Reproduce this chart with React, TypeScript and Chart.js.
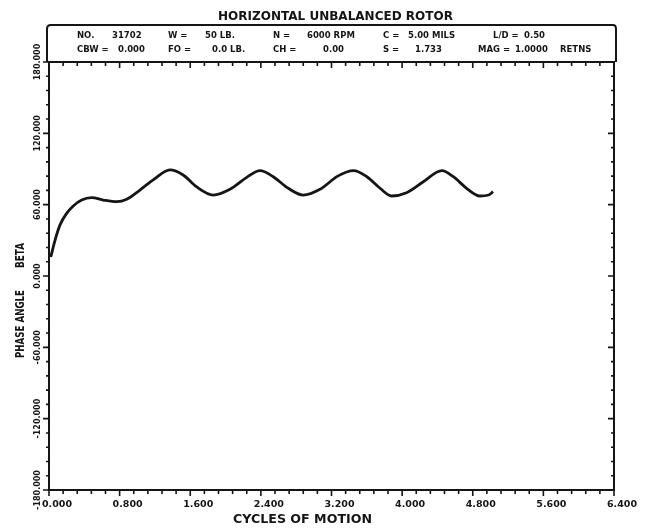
import React, { useEffect, useRef } from "react";
import { Chart, registerables } from "chart.js";

Chart.register(...registerables);

// ---- data ----
const CYCLES = [
  0.02, 0.068, 0.125, 0.2, 0.275, 0.37, 0.484, 0.615, 0.767, 0.88, 1.03, 1.18, 1.37, 1.52, 1.67, 1.86,
  2.05, 2.24, 2.39, 2.54, 2.71, 2.88, 3.07, 3.27, 3.45, 3.6, 3.75, 3.88, 4.05, 4.24, 4.45, 4.58, 4.73,
  4.88, 4.98, 5.03,
];
const BETA = [
  16, 30, 43, 52.7, 58.9, 63.9, 65.9, 63.9, 62.5, 64.5, 72.3, 80.8, 89.2, 85, 75.1, 68.1,
  72.9, 83, 88.6, 83.5, 73.8, 68.1, 72.9, 84, 88.6, 83.5, 73.8, 67.3, 70.1, 79.3, 88.6, 83.5, 73.8,
  67.3, 68.1, 70.9,
];
const X_TICKS = [0, 0.8, 1.6, 2.4, 3.2, 4.0, 4.8, 5.6, 6.4];
const Y_TICKS = [-180, -120, -60, 0, 60, 120, 180];
const TITLE = "HORIZONTAL UNBALANCED ROTOR";
const X_TITLE = "CYCLES OF MOTION";
const Y_TITLE_A = "PHASE ANGLE";
const Y_TITLE_B = "BETA";
const HEADER_ROW1 = ["NO.", "31702", "W =", "50 LB.", "N =", "6000 RPM", "C =", "5.00 MILS", "L/D =", "0.50"];
const HEADER_ROW2 = ["CBW =", "0.000", "FO =", "0.0 LB.", "CH =", "0.00", "S =", "1.733", "MAG =", "1.0000", "RETNS"];

// ---- layout (pixels) ----
const ROW1_X = [77, 112, 168, 205, 273, 307, 383, 408, 493, 524];
const ROW2_X = [77, 118, 168, 212, 273, 323, 383, 415, 478, 515, 560];
const INK = "#151515";

function fitText(ctx: CanvasRenderingContext2D, text: string, x: number, y: number, w: number, rot = 0) {
  const m = ctx.measureText(text).width;
  const sx = m > 0 ? w / m : 1;
  ctx.save();
  ctx.translate(x, y);
  if (rot) ctx.rotate(rot);
  ctx.scale(sx, 1);
  ctx.fillText(text, 0, 0);
  ctx.restore();
}

const decorPlugin = {
  id: "decor",
  afterDraw(chart: any) {
    const ctx: CanvasRenderingContext2D = chart.ctx;
    const { left, right, top, bottom } = chart.chartArea;
    const xs = chart.scales.x;
    const ys = chart.scales.y;
    ctx.save();
    ctx.strokeStyle = INK;
    ctx.fillStyle = INK;
    // frame
    ctx.lineWidth = 2;
    ctx.strokeRect(left, top, right - left, bottom - top);
    // header box
    ctx.beginPath();
    ctx.moveTo(left - 2, top);
    ctx.lineTo(left - 2, 29);
    ctx.quadraticCurveTo(left - 2, 25, left + 2, 25);
    ctx.lineTo(right - 1, 25);
    ctx.quadraticCurveTo(right + 2, 25, right + 2, 29);
    ctx.lineTo(right + 2, top);
    ctx.stroke();
    // frame ticks
    ctx.lineWidth = 1.6;
    for (let i = 0; i <= 40; i++) {
      const v = (xs.max - xs.min) * (i / 40) + xs.min;
      const px = xs.getPixelForValue(v);
      const len = i % 5 === 0 ? 6 : 4;
      ctx.beginPath();
      ctx.moveTo(px, bottom);
      ctx.lineTo(px, bottom + len);
      ctx.moveTo(px, top);
      ctx.lineTo(px, top + len);
      ctx.stroke();
    }
    for (let i = 0; i <= 30; i++) {
      const v = (ys.max - ys.min) * (i / 30) + ys.min;
      const py = ys.getPixelForValue(v);
      const len = i % 5 === 0 ? 6 : 3;
      ctx.beginPath();
      ctx.moveTo(left, py);
      ctx.lineTo(left - len, py);
      ctx.moveTo(right, py);
      ctx.lineTo(right - len, py);
      ctx.stroke();
    }
    // title
    ctx.textBaseline = "middle";
    ctx.textAlign = "left";
    ctx.font = "bold 13px 'DejaVu Sans'";
    fitText(ctx, TITLE, 218, 17, 235);
    // header rows
    ctx.font = "bold 8.5px 'DejaVu Sans'";
    HEADER_ROW1.forEach((t, i) => ctx.fillText(t, ROW1_X[i], 36));
    HEADER_ROW2.forEach((t, i) => ctx.fillText(t, ROW2_X[i], 50));
    // axis titles
    ctx.font = "bold 12px 'DejaVu Sans'";
    fitText(ctx, X_TITLE, 233, 520, 139);
    fitText(ctx, Y_TITLE_A, 21, 358, 68, -Math.PI / 2);
    fitText(ctx, Y_TITLE_B, 21, 268, 25, -Math.PI / 2);
    ctx.restore();
  },
};

export default function App() {
  const ref = useRef<HTMLCanvasElement | null>(null);
  useEffect(() => {
    if (!ref.current) return;
    const chart = new Chart(ref.current, {
      type: "line",
      data: {
        datasets: [
          {
            data: CYCLES.map((x, i) => ({ x, y: BETA[i] })),
            borderColor: INK,
            borderWidth: 2.8,
            pointRadius: 0,
            cubicInterpolationMode: "monotone",
            fill: false,
          },
        ],
      },
      options: {
        animation: false,
        responsive: false,
        events: [],
        layout: { padding: { top: 62, right: 32, left: 0, bottom: 0 } },
        plugins: { legend: { display: false }, tooltip: { enabled: false }, title: { display: false } },
        scales: {
          x: {
            type: "linear",
            min: 0,
            max: 6.4,
            afterBuildTicks: (s: any) => {
              s.ticks = X_TICKS.map((v) => ({ value: v }));
            },
            grid: { display: false, drawTicks: false },
            border: { display: false },
            ticks: {
              autoSkip: false,
              maxRotation: 0,
              minRotation: 0,
              padding: 9,
              labelOffset: 8,
              color: INK,
              font: { family: "'DejaVu Sans'", size: 9.5, weight: "bold" },
              callback: (v: any) => Number(v).toFixed(3),
            },
            afterFit: (s: any) => {
              s.height = 38;
            },
          },
          y: {
            type: "linear",
            min: -180,
            max: 180,
            afterBuildTicks: (s: any) => {
              s.ticks = Y_TICKS.map((v) => ({ value: v }));
            },
            grid: { display: false, drawTicks: false },
            border: { display: false },
            ticks: {
              autoSkip: false,
              minRotation: 90,
              maxRotation: 90,
              crossAlign: "center",
              padding: -9,
              color: INK,
              font: { family: "'DejaVu Sans'", size: 8, weight: "bold" },
              callback: (v: any) => Number(v).toFixed(3),
            },
            afterFit: (s: any) => {
              s.width = 49;
            },
          },
        },
      },
      plugins: [decorPlugin],
    } as any);
    return () => chart.destroy();
  }, []);
  return (
    <div style={{ position: "absolute", left: 0, top: 0, width: 646, height: 528, background: "#fff" }}>
      <canvas ref={ref} width={646} height={528} style={{ width: 646, height: 528, display: "block" }} />
    </div>
  );
}
